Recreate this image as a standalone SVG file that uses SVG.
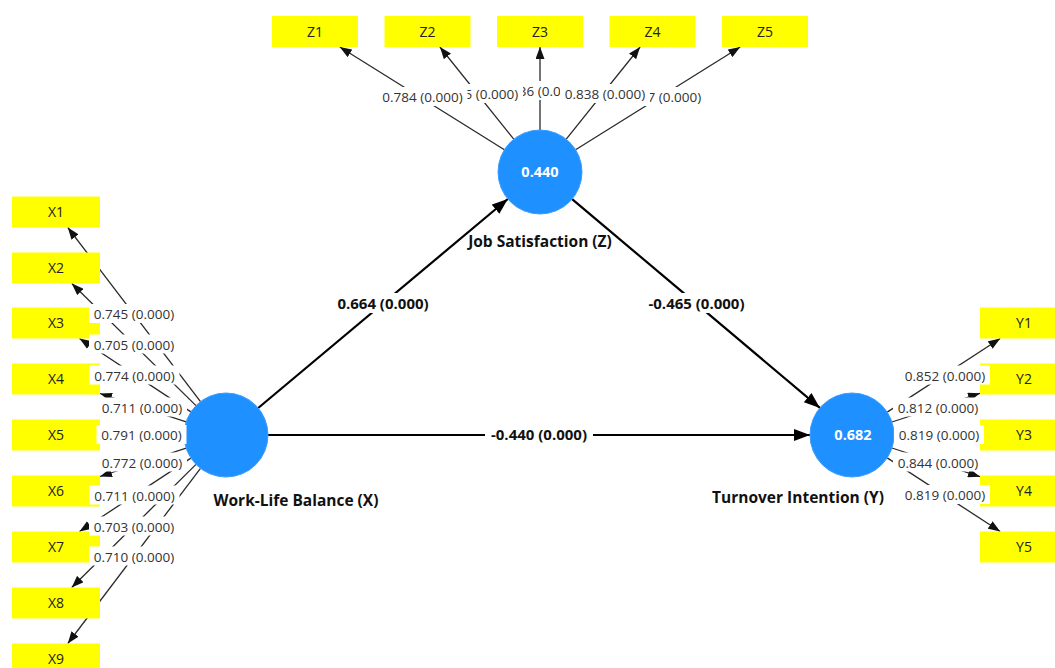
<svg xmlns="http://www.w3.org/2000/svg" width="1055" height="668" viewBox="0 0 1055 668">
<style>
.bg{fill:#ffffff}
.ind rect{fill:#ffff00}
.ind text{font-family:"Open Sans","Liberation Sans",sans-serif;font-size:14px;fill:#222;text-anchor:middle}
.lv circle{fill:#1e90ff;stroke:#3a9cff;stroke-width:1}
.lv .val{font-family:"Open Sans","Liberation Sans",sans-serif;font-size:14.5px;font-weight:bold;fill:#ffffff;text-anchor:middle}
.lv .name{font-family:"Open Sans","Liberation Sans",sans-serif;font-size:15.5px;font-weight:bold;fill:#111;text-anchor:middle}
.load{stroke:#2a2a2a;stroke-width:1.3;fill:none;marker-end:url(#ah)}
.main{stroke:#000;stroke-width:2.2;fill:none;marker-end:url(#ahb)}
.lbl rect{fill:#ffffff}
.lbl text{font-family:"Open Sans","Liberation Sans",sans-serif;font-size:13.5px;fill:#333;text-anchor:middle}
.plbl rect{fill:#ffffff}
.plbl text{font-family:"Open Sans","Liberation Sans",sans-serif;font-size:15px;font-weight:bold;fill:#111;text-anchor:middle}
</style>
<defs>
<marker id="ah" viewBox="0 0 12 9" refX="12" refY="4.5" markerWidth="12" markerHeight="9" markerUnits="userSpaceOnUse" orient="auto"><path d="M0,0 L12,4.5 L0,9 z" fill="#111"/></marker>
<marker id="ahb" viewBox="0 0 16 12" refX="16" refY="6" markerWidth="16" markerHeight="12" markerUnits="userSpaceOnUse" orient="auto"><path d="M0,0 L16,6 L0,12 z" fill="#000"/></marker>
</defs>
<rect class="bg" x="0" y="0" width="1055" height="668"/>
<g id="connectors">
<path class="load" d="M200.5,401.6 L67.8,227.5"/>
<path class="load" d="M196,405.6 L71.8,283.5"/>
<path class="load" d="M190.9,411.9 L79.5,338.5"/>
<path class="load" d="M186.1,421.9 L100,393.5"/>
<path class="load" d="M184,435 L100,435"/>
<path class="load" d="M186.1,448.1 L100,476.5"/>
<path class="load" d="M190.9,458.1 L79.5,531.5"/>
<path class="load" d="M196,464.4 L71.7,587.5"/>
<path class="load" d="M200.5,468.4 L67.8,643.5"/>
<path class="load" d="M887.2,412.1 L1000.2,338.5"/>
<path class="load" d="M891.9,422 L980,393.3"/>
<path class="load" d="M894,435 L980,435"/>
<path class="load" d="M891.9,448 L980,476.7"/>
<path class="load" d="M887.2,457.9 L1000.2,531.5"/>
<path class="load" d="M504.4,149.8 L339.8,47"/>
<path class="load" d="M513.75,139.2 L439.9,47"/>
<path class="load" d="M540,130 L540,47"/>
<path class="load" d="M566.25,139.2 L640.1,47"/>
<path class="load" d="M575.6,149.8 L740.2,47"/>
<path class="main" d="M258.2,408 L507.8,199"/>
<path class="main" d="M572.1,199.1 L819.9,407.9"/>
<path class="main" d="M268,435 L810,435"/>
</g>
<g id="X1" class="ind"><rect x="12" y="196.5" width="88" height="31"/><text x="56" y="217">X1</text></g>
<g id="X2" class="ind"><rect x="12" y="252.5" width="88" height="31"/><text x="56" y="273">X2</text></g>
<g id="X3" class="ind"><rect x="12" y="307.5" width="88" height="31"/><text x="56" y="328">X3</text></g>
<g id="X4" class="ind"><rect x="12" y="363.5" width="88" height="31"/><text x="56" y="384">X4</text></g>
<g id="X5" class="ind"><rect x="12" y="419.5" width="88" height="31"/><text x="56" y="440">X5</text></g>
<g id="X6" class="ind"><rect x="12" y="475.5" width="88" height="31"/><text x="56" y="496">X6</text></g>
<g id="X7" class="ind"><rect x="12" y="531.5" width="88" height="31"/><text x="56" y="552">X7</text></g>
<g id="X8" class="ind"><rect x="12" y="587.5" width="88" height="31"/><text x="56" y="608">X8</text></g>
<g id="X9" class="ind"><rect x="12" y="643.5" width="88" height="31"/><text x="56" y="664">X9</text></g>
<g id="Y1" class="ind"><rect x="980" y="307.5" width="88" height="31"/><text x="1024" y="328">Y1</text></g>
<g id="Y2" class="ind"><rect x="980" y="363.5" width="88" height="31"/><text x="1024" y="384">Y2</text></g>
<g id="Y3" class="ind"><rect x="980" y="419.5" width="88" height="31"/><text x="1024" y="440">Y3</text></g>
<g id="Y4" class="ind"><rect x="980" y="475.5" width="88" height="31"/><text x="1024" y="496">Y4</text></g>
<g id="Y5" class="ind"><rect x="980" y="531.5" width="88" height="31"/><text x="1024" y="552">Y5</text></g>
<g id="Z1" class="ind"><rect x="272" y="16" width="86" height="31"/><text x="315" y="36.5">Z1</text></g>
<g id="Z2" class="ind"><rect x="384.5" y="16" width="86" height="31"/><text x="427.5" y="36.5">Z2</text></g>
<g id="Z3" class="ind"><rect x="497" y="16" width="86" height="31"/><text x="540" y="36.5">Z3</text></g>
<g id="Z4" class="ind"><rect x="609.5" y="16" width="86" height="31"/><text x="652.5" y="36.5">Z4</text></g>
<g id="Z5" class="ind"><rect x="722" y="16" width="86" height="31"/><text x="765" y="36.5">Z5</text></g>
<g id="WLB" class="lv"><circle cx="226" cy="435" r="42"/><text class="name" x="296" y="506">Work-Life Balance (X)</text></g>
<g id="JS" class="lv"><circle cx="540" cy="172" r="42"/><text class="val" x="540" y="177">0.440</text><text class="name" x="540" y="247">Job Satisfaction (Z)</text></g>
<g id="TI" class="lv"><circle cx="852" cy="435" r="42"/><text class="val" x="853" y="440">0.682</text><text class="name" x="798" y="503">Turnover Intention (Y)</text></g>
<g id="loading-labels" class="lbl">
<g transform="translate(134,314)"><rect x="-45" y="-10" width="90" height="19"/><text y="5">0.745 (0.000)</text></g>
<g transform="translate(134,344.5)"><rect x="-45" y="-10" width="90" height="19"/><text y="5">0.705 (0.000)</text></g>
<g transform="translate(134.5,375.5)"><rect x="-45" y="-10" width="90" height="19"/><text y="5">0.774 (0.000)</text></g>
<g transform="translate(142,407.5)"><rect x="-45" y="-10" width="90" height="19"/><text y="5">0.711 (0.000)</text></g>
<g transform="translate(141.5,435)"><rect x="-45" y="-10" width="90" height="19"/><text y="5">0.791 (0.000)</text></g>
<g transform="translate(142,462.5)"><rect x="-45" y="-10" width="90" height="19"/><text y="5">0.772 (0.000)</text></g>
<g transform="translate(134.5,495.5)"><rect x="-45" y="-10" width="90" height="19"/><text y="5">0.711 (0.000)</text></g>
<g transform="translate(134,526.5)"><rect x="-45" y="-10" width="90" height="19"/><text y="5">0.703 (0.000)</text></g>
<g transform="translate(134,556.5)"><rect x="-45" y="-10" width="90" height="19"/><text y="5">0.710 (0.000)</text></g>
<g transform="translate(945,375.5)"><rect x="-45" y="-10" width="90" height="19"/><text y="5">0.852 (0.000)</text></g>
<g transform="translate(938,407.5)"><rect x="-45" y="-10" width="90" height="19"/><text y="5">0.812 (0.000)</text></g>
<g transform="translate(939,435)"><rect x="-45" y="-10" width="90" height="19"/><text y="5">0.819 (0.000)</text></g>
<g transform="translate(938,462.5)"><rect x="-45" y="-10" width="90" height="19"/><text y="5">0.844 (0.000)</text></g>
<g transform="translate(945,495)"><rect x="-45" y="-10" width="90" height="19"/><text y="5">0.819 (0.000)</text></g>
<g transform="translate(540,91)"><rect x="-45" y="-10" width="90" height="19"/><text y="5">0.836 (0.000)</text></g>
<g transform="translate(661,97)"><rect x="-45" y="-10" width="90" height="19"/><text y="5">0.767 (0.000)</text></g>
<g transform="translate(478,94)"><rect x="-45" y="-10" width="90" height="19"/><text y="5">0.795 (0.000)</text></g>
<g transform="translate(422.5,97)"><rect x="-45" y="-10" width="90" height="19"/><text y="5">0.784 (0.000)</text></g>
<g transform="translate(605,94)"><rect x="-45" y="-10" width="90" height="19"/><text y="5">0.838 (0.000)</text></g>
</g>
<g id="path-labels" class="plbl">
<g transform="translate(383,303.5)"><rect x="-51" y="-10.5" width="102" height="20"/><text y="5">0.664 (0.000)</text></g>
<g transform="translate(696.5,303.5)"><rect x="-54" y="-10.5" width="108" height="20"/><text y="5">-0.465 (0.000)</text></g>
<g transform="translate(539,435)"><rect x="-54" y="-10.5" width="108" height="20"/><text y="5">-0.440 (0.000)</text></g>
</g>
</svg>
